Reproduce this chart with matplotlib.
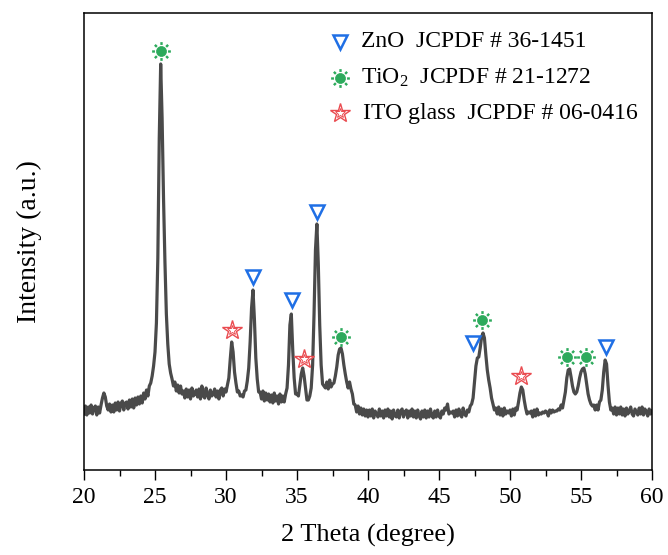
import numpy as np
import matplotlib
matplotlib.use("Agg")
import matplotlib.pyplot as plt
from matplotlib.path import Path
from matplotlib.ticker import MultipleLocator

plt.rcParams['font.family'] = 'Liberation Serif'
plt.rcParams['mathtext.fontset'] = 'custom'
plt.rcParams['mathtext.rm'] = 'Liberation Serif'
plt.rcParams['mathtext.default'] = 'regular'

# XRD scan, 2-theta from 20 to 60 deg in 0.1 deg steps
two_theta = np.round(np.arange(20.0, 60.05, 0.1), 1)
intensity = [
    56, 64, 55, 63, 57, 65, 56, 62, 64, 55,          # 20
    63, 57, 65, 72, 77, 73, 64, 60, 66, 58,          # 21
    65, 58, 67, 60, 68, 59, 66, 69, 60, 67,          # 22
    68, 61, 70, 63, 71, 62, 72, 65, 73, 66,          # 23
    74, 67, 77, 71, 80, 74, 84, 87, 94, 104,         # 24
    118, 147, 212, 332, 406, 352, 272, 208, 156, 126,  # 25
    106, 97, 91, 84, 88, 79, 85, 77, 84, 76,         # 26
    79, 72, 81, 73, 80, 71, 82, 74, 76, 80,          # 27
    73, 81, 71, 84, 74, 72, 82, 75, 71, 80,          # 28
    74, 76, 81, 73, 79, 71, 80, 82, 74, 81,          # 29
    78, 85, 92, 111, 128, 118, 98, 87, 78, 79,       # 30
    74, 75, 73, 79, 80, 89, 102, 128, 162, 180,      # 31
    151, 112, 91, 78, 78, 71, 79, 69, 77, 70,        # 32
    76, 68, 75, 67, 77, 69, 74, 66, 76, 68,          # 33
    74, 68, 76, 82, 105, 145, 156, 120, 92, 76,      # 34
    76, 74, 85, 96, 102, 94, 82, 70, 70, 74,         # 35
    82, 105, 156, 220, 246, 206, 145, 105, 86, 84,   # 36
    82, 88, 81, 90, 83, 86, 87, 94, 103, 115,        # 37
    121, 122, 116, 105, 96, 88, 82, 88, 81, 76,      # 38
    66, 65, 58, 64, 56, 62, 55, 61, 54, 60,          # 39
    53, 60, 54, 61, 52, 59, 56, 53, 61, 54,          # 40
    59, 52, 60, 54, 61, 53, 59, 51, 60, 54,          # 41
    53, 60, 52, 59, 61, 53, 58, 60, 52, 59,          # 42
    54, 61, 53, 59, 52, 60, 54, 51, 59, 53,          # 43
    60, 52, 59, 53, 61, 54, 52, 59, 53, 60,          # 44
    54, 52, 59, 56, 62, 60, 66, 56, 58, 57,          # 45
    59, 53, 60, 54, 61, 55, 53, 62, 56, 54,          # 46
    60, 58, 64, 66, 72, 88, 104, 112, 113, 122,      # 47
    133, 137, 132, 115, 100, 90, 82, 72, 66, 60,     # 48
    62, 56, 63, 55, 61, 54, 62, 56, 59, 57,          # 49
    60, 54, 61, 55, 62, 60, 68, 77, 83, 80,          # 50
    70, 62, 56, 58, 57, 59, 53, 60, 54, 61,          # 51
    55, 57, 56, 58, 57, 59, 58, 54, 60, 57,          # 52
    60, 58, 59, 59, 61, 60, 65, 62, 70, 78,          # 53
    92, 100, 101, 93, 84, 78, 76, 78, 84, 92,        # 54
    98, 101, 102, 96, 86, 76, 70, 66, 64, 65,        # 55
    60, 65, 60, 68, 70, 80, 98, 110, 106, 85,        # 56
    68, 60, 62, 56, 63, 55, 62, 56, 63, 55,          # 57
    61, 54, 62, 56, 59, 63, 56, 54, 61, 58,          # 58
    55, 62, 56, 63, 55, 61, 58, 54, 61, 56,          # 59
    59,                                              # 60
]

# phase markers placed above the indexed reflections
zno_pos = [31.9, 34.65, 36.4, 47.42, 56.76]
zno_int = [193, 170, 258, 127, 123]
tio2_pos = [25.4, 38.1, 48.05, 54.0, 55.33]
tio2_int = [419, 133, 150, 113, 113]
ito_pos = [30.4, 35.5, 50.78]
ito_int = [140, 111, 94]

legend_labels = ["ZnO  JCPDF # 36-1451",
                 "TiO$_2$  JCPDF # 21-1272",
                 "ITO glass  JCPDF # 06-0416"]

blue = '#1f6fe5'
green = '#2daa5c'
red = '#ea4b50'

# sun-like marker: eight short rays around a dot
rays_v, rays_c = [], []
for a in np.deg2rad(np.arange(0, 360, 45)):
    rays_v += [(0.7 * np.cos(a), 0.7 * np.sin(a)), (np.cos(a), np.sin(a))]
    rays_c += [Path.MOVETO, Path.LINETO]
rays = Path(rays_v, rays_c)


def draw_zno(ax, x, y, **kw):
    ax.plot(x, y, 'v', ms=10.5, mfc='none', mec=blue, mew=1.8, ls='none', **kw)


def draw_tio2(ax, x, y, **kw):
    ax.plot(x, y, marker=rays, ms=13.5, mec=green, mew=1.7, ls='none', **kw)
    ax.plot(x, y, 'o', ms=7.2, mfc=green, mec=green, mew=0.5, ls='none', **kw)


def draw_ito(ax, x, y, **kw):
    ax.plot(x, y, '*', ms=15, mfc='white', mec=red, mew=1.0, ls='none', **kw)
    ax.plot(x, y, '*', ms=7, mfc='none', mec=red, mew=0.7, ls='none', **kw)


fig = plt.figure(figsize=(6.68, 5.55), dpi=100)
ax = fig.add_axes([84 / 668, 1 - 470 / 555, 568 / 668, 457 / 555])

ax.plot(two_theta, intensity, color='#4a4a4a', lw=2.3, zorder=2)

draw_zno(ax, zno_pos, zno_int, zorder=3)
draw_tio2(ax, tio2_pos, tio2_int, zorder=3)
draw_ito(ax, ito_pos, ito_int, zorder=3)

# legend drawn by hand in axes coordinates
rows = [0.937, 0.858, 0.781]
draw_zno(ax, [0.451], [rows[0]], transform=ax.transAxes, clip_on=False)
draw_tio2(ax, [0.451], [rows[1]], transform=ax.transAxes, clip_on=False)
draw_ito(ax, [0.451], [rows[2]], transform=ax.transAxes, clip_on=False)
for i, lab in enumerate(legend_labels):
    ax.text(0.488 if i < 2 else 0.492, rows[i], lab, transform=ax.transAxes,
            fontsize=17, va='center', ha='left')

ax.set_xlim(20, 60)
ax.set_ylim(0, 457)
ax.xaxis.set_major_locator(MultipleLocator(5))
ax.xaxis.set_minor_locator(MultipleLocator(2.5))
ax.set_yticks([])
ax.tick_params(axis='x', which='major', direction='out', length=7, width=1.0,
               labelsize=17, pad=5)
ax.tick_params(axis='x', which='minor', direction='out', length=4, width=1.0)
for s in ax.spines.values():
    s.set_linewidth(1.1)

ax.set_xlabel("2 Theta (degree)", fontsize=19, labelpad=12)
ax.set_ylabel("Intensity (a.u.)", fontsize=20, labelpad=30)

fig.savefig("out.png", dpi=100)
